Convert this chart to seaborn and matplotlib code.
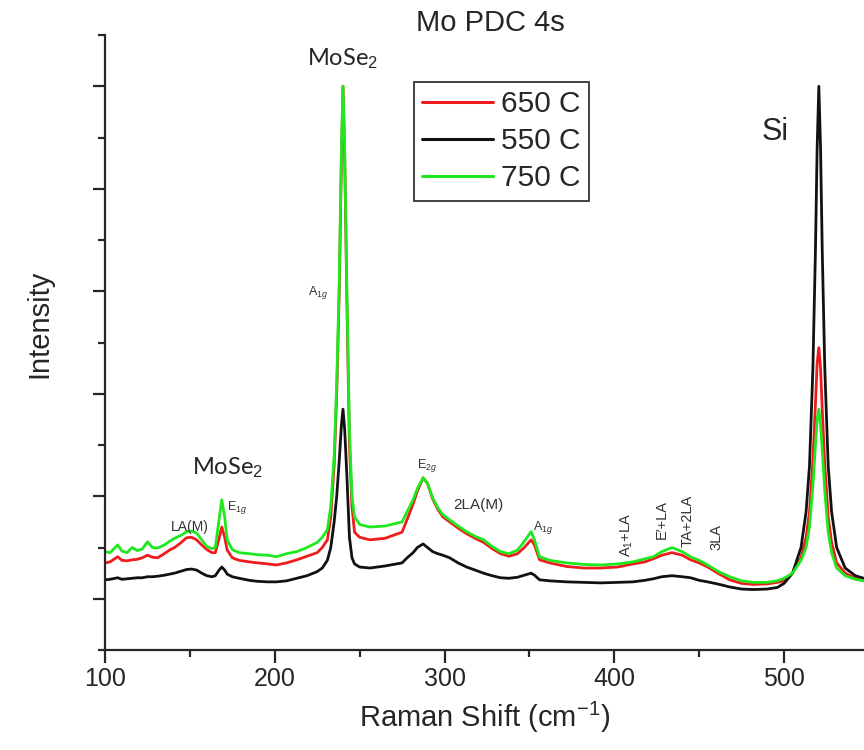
import pandas as pd
import seaborn as sns
import matplotlib.pyplot as plt
from matplotlib.ticker import MultipleLocator, NullFormatter

# Raman shift (cm-1) sample points
shift = [100, 103, 107.5, 110, 113, 116, 119, 122, 125, 128, 131, 135, 138, 141, 145,
         148, 151, 154, 157, 160, 163, 165, 167, 168.8, 170.5, 172, 175, 179, 185, 190,
         196, 201, 207, 213, 219, 225, 228, 231, 233, 235, 236.5, 238, 239.3, 240.2, 241.2,
         242.5, 244, 245.5, 247, 250, 256, 265, 275, 278, 281.5, 284, 287.4, 290, 293,
         296, 299, 303, 308, 313, 318, 323, 328, 333, 338, 343, 347, 351, 353, 356,
         362, 372, 382, 392, 402, 411, 418, 423, 428, 434, 440, 445, 450, 455, 462,
         468, 475, 482, 490, 496, 500, 505, 510, 513, 515, 517, 518.5, 519.5, 520.5, 521.5,
         522.5, 524, 526, 528, 531, 536, 542, 547]

# normalised intensity, 650 C (red)
i_650 = [0.070, 0.072, 0.082, 0.075, 0.074, 0.076, 0.077, 0.080, 0.085, 0.081, 0.080, 0.088, 0.095, 0.100, 0.110,
         0.119, 0.120, 0.115, 0.105, 0.096, 0.090, 0.090, 0.115, 0.140, 0.120, 0.095, 0.080, 0.075, 0.072, 0.070,
         0.068, 0.066, 0.070, 0.076, 0.083, 0.090, 0.100, 0.115, 0.160, 0.260, 0.400, 0.600, 0.860, 1.000, 0.860,
         0.580, 0.300, 0.180, 0.130, 0.120, 0.115, 0.118, 0.130, 0.155, 0.185, 0.210, 0.236, 0.225, 0.195,
         0.175, 0.160, 0.150, 0.138, 0.127, 0.118, 0.110, 0.098, 0.088, 0.083, 0.088, 0.100, 0.115, 0.105, 0.076,
         0.070, 0.063, 0.060, 0.060, 0.062, 0.068, 0.072, 0.078, 0.085, 0.090, 0.085, 0.076, 0.070, 0.062, 0.048,
         0.037, 0.030, 0.028, 0.029, 0.032, 0.035, 0.050, 0.080, 0.120, 0.170, 0.270, 0.380, 0.460, 0.490, 0.450,
         0.370, 0.260, 0.160, 0.110, 0.070, 0.050, 0.040, 0.035]

# normalised intensity, 550 C (black)
i_550 = [0.037, 0.038, 0.041, 0.038, 0.039, 0.040, 0.041, 0.041, 0.043, 0.043, 0.044, 0.046, 0.048, 0.050, 0.054,
         0.057, 0.058, 0.056, 0.050, 0.045, 0.043, 0.045, 0.055, 0.062, 0.056, 0.048, 0.043, 0.040, 0.036, 0.034,
         0.033, 0.033, 0.035, 0.040, 0.045, 0.053, 0.060, 0.075, 0.100, 0.150, 0.200, 0.270, 0.340, 0.370, 0.330,
         0.240, 0.120, 0.080, 0.068, 0.062, 0.060, 0.064, 0.070, 0.080, 0.090, 0.100, 0.107, 0.100, 0.092,
         0.088, 0.085, 0.080, 0.070, 0.062, 0.056, 0.050, 0.045, 0.041, 0.040, 0.042, 0.046, 0.050, 0.046, 0.037,
         0.035, 0.033, 0.032, 0.031, 0.032, 0.033, 0.036, 0.039, 0.043, 0.045, 0.043, 0.041, 0.036, 0.033, 0.028,
         0.023, 0.019, 0.018, 0.019, 0.022, 0.030, 0.050, 0.100, 0.170, 0.260, 0.450, 0.680, 0.880, 1.000, 0.880,
         0.680, 0.450, 0.260, 0.170, 0.100, 0.060, 0.045, 0.040]

# normalised intensity, 750 C (green)
i_750 = [0.092, 0.090, 0.105, 0.093, 0.090, 0.100, 0.094, 0.097, 0.111, 0.100, 0.099, 0.105, 0.112, 0.118, 0.124,
         0.131, 0.132, 0.128, 0.115, 0.102, 0.098, 0.100, 0.150, 0.193, 0.160, 0.115, 0.096, 0.090, 0.088, 0.086,
         0.085, 0.082, 0.088, 0.092, 0.100, 0.110, 0.120, 0.135, 0.180, 0.280, 0.420, 0.620, 0.880, 1.000, 0.880,
         0.600, 0.330, 0.200, 0.160, 0.145, 0.140, 0.142, 0.150, 0.170, 0.193, 0.215, 0.236, 0.225, 0.197,
         0.178, 0.164, 0.154, 0.142, 0.131, 0.122, 0.115, 0.102, 0.092, 0.088, 0.095, 0.112, 0.131, 0.115, 0.082,
         0.075, 0.070, 0.067, 0.066, 0.068, 0.072, 0.078, 0.082, 0.092, 0.100, 0.092, 0.082, 0.075, 0.066, 0.052,
         0.043, 0.035, 0.032, 0.032, 0.035, 0.040, 0.050, 0.075, 0.100, 0.140, 0.220, 0.300, 0.350, 0.370, 0.340,
         0.290, 0.210, 0.130, 0.090, 0.060, 0.045, 0.038, 0.035]

series_order = ['650 C', '550 C', '750 C']
colors = {'650 C': '#ee1c1c', '550 C': '#111111', '750 C': '#1ee81e'}

df = pd.concat([
    pd.DataFrame({'shift': shift, 'intensity': i_650, 'sample': '650 C'}),
    pd.DataFrame({'shift': shift, 'intensity': i_550, 'sample': '550 C'}),
    pd.DataFrame({'shift': shift, 'intensity': i_750, 'sample': '750 C'}),
])

sns.set_style('ticks')
plt.rcParams['font.family'] = ['Liberation Sans', 'DejaVu Sans']
plt.rcParams['mathtext.fontset'] = 'custom'
plt.rcParams['mathtext.rm'] = 'Liberation Sans'
plt.rcParams['mathtext.it'] = 'Liberation Sans:italic'

fig = plt.figure(figsize=(8.64, 7.5), dpi=100)
ax = fig.add_axes([0.1215, 0.1333, 0.8785, 0.82])

sns.lineplot(data=df, x='shift', y='intensity', hue='sample', hue_order=series_order,
             palette=colors, estimator=None, sort=False, linewidth=2.0, ax=ax)

ax.set_xlim(100, 547.1)
ax.set_ylim(-0.1, 1.1)
ax.xaxis.set_major_locator(MultipleLocator(100))
ax.xaxis.set_minor_locator(MultipleLocator(50))
ax.yaxis.set_major_locator(MultipleLocator(0.2))
ax.yaxis.set_minor_locator(MultipleLocator(0.1))
ax.yaxis.set_major_formatter(NullFormatter())
ax.tick_params(axis='both', which='major', length=9, width=1.6, direction='out', labelsize=18)
ax.tick_params(axis='both', which='minor', length=5, width=1.6, direction='out')
for side in ['top', 'right']:
    ax.spines[side].set_visible(False)
for side in ['left', 'bottom']:
    ax.spines[side].set_linewidth(1.6)

ax.set_xlabel('Raman Shift (cm$^{-1}$)', fontsize=21, labelpad=6)
ax.set_ylabel('')
fig.text(39 / 864, 1 - 324 / 750, 'Intensity', rotation=90, ha='center', va='center', fontsize=21)
fig.text(490 / 864, 1 - 23 / 750, 'Mo PDC 4s', ha='center', va='center', fontsize=21)

leg = ax.legend(loc='upper left', bbox_to_anchor=(414 / 864, 1 - 82 / 750),
                bbox_transform=fig.transFigure, fontsize=21.5, frameon=True, fancybox=False,
                handlelength=2.35, handletextpad=0.3, labelspacing=0.3, borderpad=0.28,
                borderaxespad=0, title=None)
leg.get_frame().set_edgecolor('black')
leg.get_frame().set_linewidth(1.3)
for line in leg.get_lines():
    line.set_linewidth(2.2)

# peak labels
calibri = ['Lato', 'DejaVu Sans']
ax.text(240, 1.055, 'MoSe$_2$', ha='center', va='center', fontsize=17, family=calibri)
ax.text(172, 0.256, 'MoSe$_2$', ha='center', va='center', fontsize=17, family=calibri)
ax.text(494.7, 0.911, 'Si', ha='center', va='center', fontsize=22)

grey = '#333333'
ax.text(150, 0.14, 'LA(M)', ha='center', va='center', fontsize=10, color=grey)
ax.text(178, 0.178, 'E$_{1g}$', ha='center', va='center', fontsize=9, color=grey)
ax.text(225.5, 0.597, 'A$_{1g}$', ha='center', va='center', fontsize=9, color=grey)
ax.text(289.7, 0.261, 'E$_{2g}$', ha='center', va='center', fontsize=9, color=grey)
ax.text(319.7, 0.183, '2LA(M)', ha='center', va='center', fontsize=11, color=grey)
ax.text(358, 0.139, 'A$_{1g}$', ha='center', va='center', fontsize=9, color=grey)
ax.text(407.5, 0.125, 'A$_1$+LA', rotation=90, ha='center', va='center', fontsize=10.5, color=grey)
ax.text(428, 0.154, "E\u2032+LA", rotation=90, ha='center', va='center', fontsize=10.5, color=grey)
ax.text(443.4, 0.152, 'TA+2LA', rotation=90, ha='center', va='center', fontsize=10.5, color=grey)
ax.text(460, 0.121, '3LA', rotation=90, ha='center', va='center', fontsize=10.5, color=grey)

fig.savefig('out.png', dpi=100)
